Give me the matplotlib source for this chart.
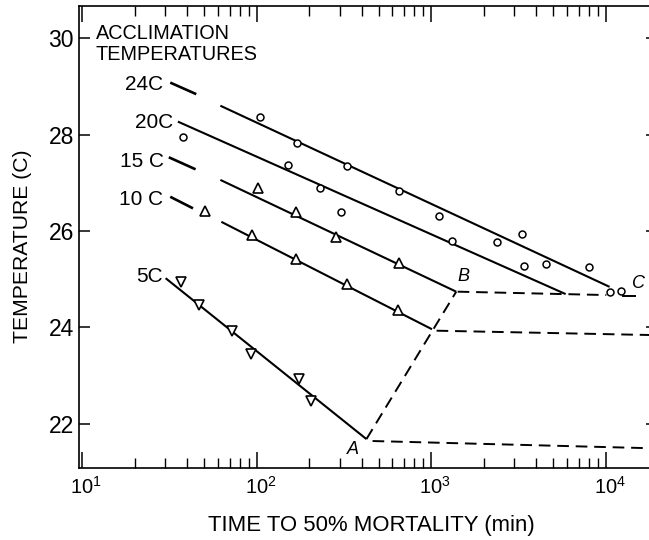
import numpy as np
import matplotlib.pyplot as plt
from matplotlib.ticker import LogLocator, FixedLocator, FuncFormatter, NullFormatter
import matplotlib.transforms as mtransforms

plt.rcParams['font.family'] = ['Liberation Sans', 'DejaVu Sans']
plt.rcParams['mathtext.fontset'] = 'custom'
plt.rcParams['mathtext.rm'] = 'Liberation Sans'
plt.rcParams['mathtext.it'] = 'Liberation Sans:italic'

# observed points (time to 50% mortality in min, temperature in C)
t24 = [104, 170, 330, 651, 1104, 2389, 3314, 4531, 7990, 10640, 12300]
T24 = [28.37, 27.83, 27.34, 26.84, 26.32, 25.77, 25.94, 25.31, 25.26, 24.73, 24.76]
t20 = [37.7, 151, 230, 306, 1323, 3389]
T20 = [27.95, 27.36, 26.89, 26.39, 25.80, 25.28]
t15 = [102, 168, 286, 651]
T15 = [26.89, 26.40, 25.87, 25.33]
t10 = [50.7, 94, 168, 331, 643]
T10 = [26.42, 25.91, 25.42, 24.89, 24.35]
t5 = [37.0, 46.5, 71.9, 92.6, 174.5, 205.8]
T5 = [24.95, 24.47, 23.92, 23.44, 22.93, 22.47]

# fitted lines
line24_t, line24_T = [62, 10540], [28.60, 24.84]
line20_t, line20_T = [35.4, 5900], [28.27, 24.69]
line15_t, line15_T = [62, 1393], [27.06, 24.74]
line10_t, line10_T = [62.8, 1012], [26.19, 23.96]
line5_t, line5_T = [30.1, 426], [25.02, 21.68]

# short leaders from the labels
lead24_t, lead24_T = [32.0, 45.1], [29.08, 28.84]
lead15_t, lead15_T = [31.4, 44.7], [27.53, 27.28]
lead10_t, lead10_T = [32.0, 43.2], [26.71, 26.47]

# dashed boundaries
ab_t, ab_T = [426, 1393], [21.68, 24.74]
platA_t, platA_T = [462, 18200], [21.64, 21.49]
plat10_t, plat10_T = [1075, 18200], [23.93, 23.84]
platB_t, platB_T = [1419, 10090], [24.74, 24.67]
tailC_t, tailC_T = [12500, 14660], [24.64, 24.64]

# labels
acc_labels = ['24C', '20C', '15 C', '10 C', '5C']
acc_t = [29.3, 33.4, 29.3, 29.3, 29.0]
acc_T = [28.93, 28.14, 27.335, 26.54, 24.95]
yticks = [22, 24, 26, 28, 30]

fig = plt.figure(figsize=(6.49, 5.40), dpi=100)
ax = fig.add_axes([79/649, 1 - 468/540, (651 - 79)/649, (468 - 6)/540])

lw = 1.5
for tt, TT in [(line24_t, line24_T), (line20_t, line20_T), (line15_t, line15_T),
               (line10_t, line10_T), (line5_t, line5_T)]:
    ax.plot(tt, TT, color='black', lw=lw, solid_capstyle='butt')
for tt, TT in [(lead24_t, lead24_T), (lead15_t, lead15_T), (lead10_t, lead10_T)]:
    ax.plot(tt, TT, color='black', lw=1.9, solid_capstyle='butt')
for tt, TT in [(ab_t, ab_T), (platA_t, platA_T), (plat10_t, plat10_T), (platB_t, platB_T)]:
    ax.plot(tt, TT, color='black', lw=1.4, linestyle=(0, (6, 3.5)))
ax.plot(tailC_t, tailC_T, color='black', lw=1.4)

ax.plot(t24, T24, 'o', mfc='white', mec='black', ms=5, mew=1.1)
ax.plot(t20, T20, 'o', mfc='white', mec='black', ms=5, mew=1.1)
ax.plot(t15, T15, '^', mfc='white', mec='black', ms=7.5, mew=1.2)
ax.plot(t10, T10, '^', mfc='white', mec='black', ms=7.5, mew=1.2)
ax.plot(t5, T5, 'v', mfc='white', mec='black', ms=7.5, mew=1.2)

ax.text(12.0, 29.985, 'ACCLIMATION', fontsize=14.3, ha='left', va='baseline')
ax.text(12.0, 29.55, 'TEMPERATURES', fontsize=14.3, ha='left', va='baseline')
for lab, tt, TT in zip(acc_labels, acc_t, acc_T):
    ax.text(tt, TT, lab, fontsize=15, ha='right', va='baseline')
ax.text(358, 21.47, 'A', fontsize=13, style='italic', ha='center', va='center')
ax.text(1529, 25.05, 'B', fontsize=13, style='italic', ha='center', va='center')
ax.text(15370, 24.915, 'C', fontsize=13, style='italic', ha='center', va='center')

ax.set_xscale('log')
ax.set_xlim(9.6, 18200)
ax.set_ylim(21.08, 30.67)
ax.xaxis.set_major_locator(LogLocator(base=10, numticks=10))
ax.xaxis.set_minor_locator(LogLocator(base=10, subs=np.arange(2, 10), numticks=10))
ax.xaxis.set_minor_formatter(NullFormatter())
ax.xaxis.set_major_formatter(FuncFormatter(
    lambda v, p: r'$\mathregular{10^{%d}}$' % round(np.log10(v))))
ax.yaxis.set_major_locator(FixedLocator(yticks))

ax.tick_params(axis='x', which='major', direction='in', length=11.5, width=1.1,
               top=True, bottom=True, labelsize=14.5, pad=6)
ax.tick_params(axis='x', which='minor', direction='in', length=7.2, width=1.0,
               top=True, bottom=True)
ax.tick_params(axis='y', which='major', direction='in', length=8, width=1.1,
               left=True, right=True, labelsize=16.5, pad=3.6)
ax.tick_params(axis='y', which='minor', left=False, right=False)
for t in ax.yaxis.get_major_ticks():
    t.tick2line.set_markersize(3.5)

for s in ax.spines.values():
    s.set_linewidth(1.2)
ax.spines['right'].set_visible(False)

shift = mtransforms.ScaledTranslation(4/100, 0, fig.dpi_scale_trans)
for lab in ax.get_xticklabels():
    lab.set_transform(lab.get_transform() + shift)

fig.text(371/649, 1 - 525/540, 'TIME TO 50% MORTALITY (min)', ha='center', va='center',
         fontsize=15.9)
fig.text(22.5/649, 1 - 246/540, 'TEMPERATURE (C)', rotation=90, ha='center', va='center',
         fontsize=15.2)

fig.savefig('out.png', dpi=100)
